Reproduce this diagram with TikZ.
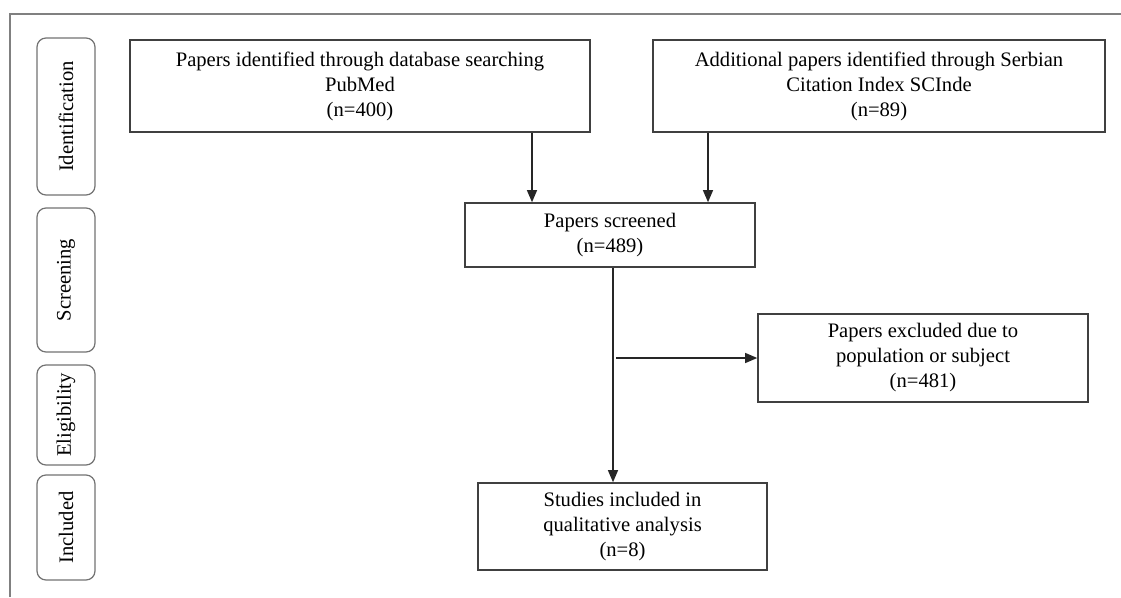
\documentclass[tikz,border=0pt]{standalone}
\usepackage{fontspec}
\setmainfont{Liberation Serif}
\usetikzlibrary{arrows.meta}
\begin{document}
\begin{tikzpicture}[x=1pt,y=-1pt,
  box/.style={draw=black!75,line width=1.6pt,rectangle,align=center,inner sep=2pt,
    font=\fontsize{20.6}{25}\selectfont,text=black},
  phase/.style={draw=black!55,line width=1.2pt,rounded corners=9pt,rotate=90,
    minimum height=58pt,inner sep=1pt,font=\fontsize{20.6}{23}\selectfont,text=black},
  arr/.style={draw=black!85,line width=1.1pt,-{Triangle[length=12pt,width=10pt]}}]
\useasboundingbox (0,0) rectangle (1121,597);
\fill[white] (0,0) rectangle (1121,597);
\draw[black!50,line width=1.3pt] (10,597) -- (10,14) -- (1121,14);

\node[phase,minimum width=157pt] (pid) at (66,116.5) {Identification};
\node[phase,minimum width=144pt] (psc) at (66,280) {Screening};
\node[phase,minimum width=100pt] (pel) at (66,415) {Eligibility};
\node[phase,minimum width=105pt] (pin) at (66,527.5) {Included};

\node[box,minimum width=460pt,minimum height=92pt] (b1) at (360,86)
  {Papers identified through database searching\\PubMed\\(n=400)};
\node[box,minimum width=452pt,minimum height=92pt] (b2) at (879,86)
  {Additional papers identified through Serbian\\Citation Index SCInde\\(n=89)};
\node[box,minimum width=290pt,minimum height=64pt] (scr) at (610,235)
  {Papers screened\\(n=489)};
\node[box,minimum width=330pt,minimum height=88pt] (exc) at (923,358)
  {Papers excluded due to\\population or subject\\(n=481)};
\node[box,minimum width=289pt,minimum height=87pt] (stu) at (622.5,526.5)
  {Studies included in\\qualitative analysis\\(n=8)};

\coordinate (xa) at (532,0);
\coordinate (xb) at (708,0);
\coordinate (xc) at (613,0);
\coordinate (xd) at (616,0);
\draw[arr] (b1.south -| xa) -- (scr.north -| xa);
\draw[arr] (b2.south -| xb) -- (scr.north -| xb);
\draw[arr] (scr.south -| xc) -- (stu.north -| xc);
\draw[arr] (exc.west -| xd) -- (exc.west);
\end{tikzpicture}
\end{document}
